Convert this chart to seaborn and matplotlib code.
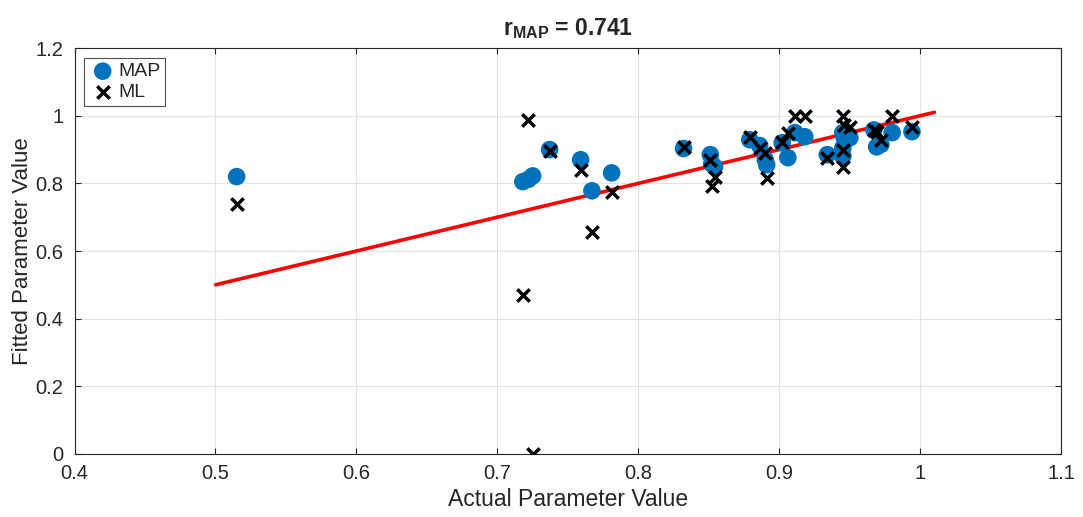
import numpy as np
import pandas as pd
import matplotlib
matplotlib.use("Agg")
import matplotlib.pyplot as plt
import seaborn as sns

actual = [0.515, 0.718, 0.722, 0.725, 0.737, 0.759, 0.767, 0.781, 0.832, 0.851,
          0.852, 0.854, 0.879, 0.886, 0.890, 0.891, 0.902, 0.906, 0.911, 0.918,
          0.934, 0.945, 0.946, 0.950, 0.945, 0.945, 0.967, 0.969, 0.972, 0.980, 0.994]
map_fit = [0.820, 0.805, 0.812, 0.822, 0.900, 0.870, 0.778, 0.831, 0.903, 0.885,
           0.858, 0.849, 0.929, 0.912, 0.870, 0.855, 0.920, 0.876, 0.950, 0.938,
           0.885, 0.950, 0.935, 0.935, 0.905, 0.880, 0.958, 0.908, 0.915, 0.950, 0.953]
ml_fit = [0.740, 0.470, 0.988, 0.000, 0.896, 0.840, 0.657, 0.775, 0.907, 0.870,
          0.793, 0.820, 0.938, 0.905, 0.890, 0.817, 0.923, 0.950, 1.000, 1.000,
          0.876, 1.000, 0.973, 0.967, 0.899, 0.849, 0.958, 0.953, 0.929, 1.000, 0.967]
line_x = [0.5, 1.01]
line_y = [0.5, 1.01]
x_ticks = [0.4, 0.5, 0.6, 0.7, 0.8, 0.9, 1.0, 1.1]
x_tick_labels = ["0.4", "0.5", "0.6", "0.7", "0.8", "0.9", "1", "1.1"]
y_ticks = [0, 0.2, 0.4, 0.6, 0.8, 1.0, 1.2]
y_tick_labels = ["0", "0.2", "0.4", "0.6", "0.8", "1", "1.2"]

df = pd.DataFrame({"actual": actual, "MAP": map_fit, "ML": ml_fit})
line_df = pd.DataFrame({"x": line_x, "y": line_y})

sns.set_style("white")
plt.rcParams["font.family"] = ["Liberation Sans", "DejaVu Sans"]
plt.rcParams["mathtext.fontset"] = "custom"
plt.rcParams["mathtext.rm"] = "Liberation Sans"
plt.rcParams["mathtext.bf"] = "Liberation Sans:bold"
plt.rcParams["mathtext.it"] = "Liberation Sans:italic"

fig = plt.figure(figsize=(10.83, 5.17), dpi=100)
ax = fig.add_axes([0.0688, 0.122, 0.9112, 0.785])

sns.lineplot(data=line_df, x="x", y="y", ax=ax, color="#ff0000", linewidth=2.6,
             zorder=2, legend=False)
sns.scatterplot(data=df, x="actual", y="MAP", ax=ax, color="#0072BD", s=160,
                edgecolor="none", label="MAP", zorder=3)
sns.scatterplot(data=df, x="actual", y="ML", ax=ax, color="black", marker="x",
                s=80, linewidth=2.5, label="ML", zorder=4)

ax.set_xlim(0.4, 1.1)
ax.set_ylim(0, 1.2)
ax.set_xticks(x_ticks)
ax.set_xticklabels(x_tick_labels)
ax.set_yticks(y_ticks)
ax.set_yticklabels(y_tick_labels)
ax.grid(True, color="#e3e3e3", linewidth=0.8)
ax.set_axisbelow(True)
for sp in ax.spines.values():
    sp.set_visible(True)
    sp.set_color("#262626")
    sp.set_linewidth(0.8)
ax.tick_params(axis="both", direction="in", length=4, labelsize=14.5,
               colors="#262626", bottom=True, left=True, top=True, right=True,
               labeltop=False, labelright=False)
ax.tick_params(axis="x", pad=7)
ax.tick_params(axis="y", pad=8)

ax.set_xlabel("Actual Parameter Value", fontsize=16.5, color="#262626", labelpad=4)
ax.set_ylabel("Fitted Parameter Value", fontsize=16, color="#262626", labelpad=2)
ax.set_title(r"r$_{\mathbf{MAP}}$ = 0.741", fontsize=16.5, fontweight="bold", pad=9)

leg = ax.legend(loc="upper left", fontsize=14, frameon=True, fancybox=False,
                edgecolor="#262626", handletextpad=0.1, borderpad=0.25,
                labelspacing=0.15, handlelength=1.4, borderaxespad=0.5)
leg.get_frame().set_linewidth(0.8)

fig.savefig("out.png", dpi=100)
